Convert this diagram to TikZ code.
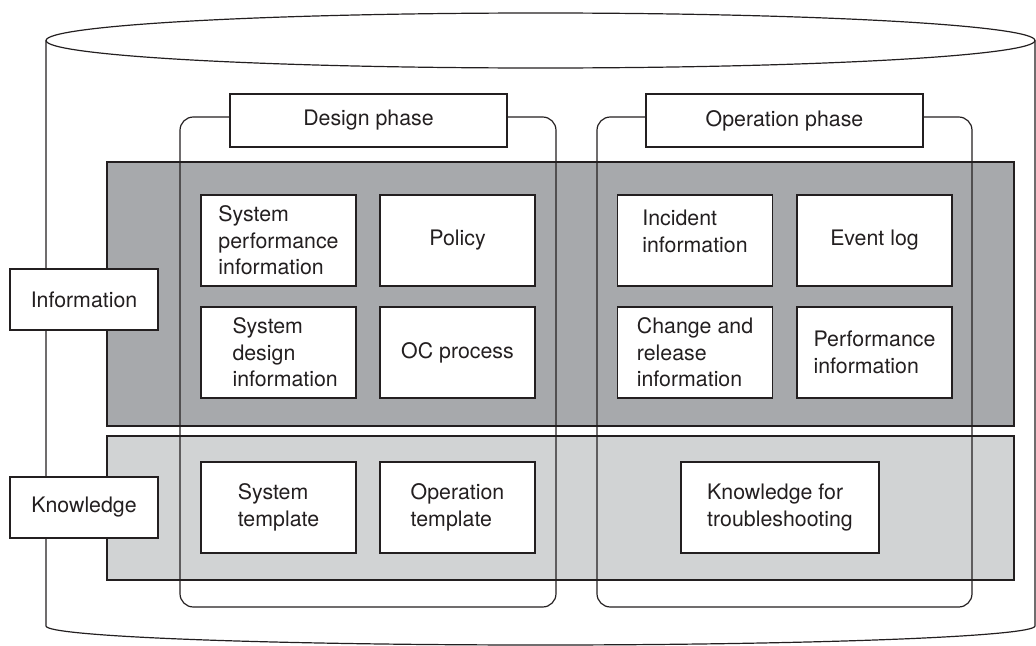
\documentclass[tikz,border=0pt]{standalone}
\usepackage{fontspec}
\setmainfont{TeX Gyre Heros}
\definecolor{darkband}{HTML}{A7A9AC}
\definecolor{lightband}{HTML}{D1D3D4}
\definecolor{ink}{HTML}{231F20}
\tikzset{
  box/.style={draw=ink, fill=white, line width=0.9pt, inner sep=0pt, align=left,
    font=\fontsize{16}{20}\selectfont, text=ink},
  itembox/.style={box, minimum width=116.25pt, minimum height=68.25pt},
  phasebox/.style={box, minimum width=207.75pt, minimum height=39.75pt},
  sidebox/.style={box, minimum width=111pt, minimum height=45.75pt},
  phaseframe/.style={draw=ink, line width=0.9pt, rounded corners=10pt}
}
\begin{document}
\begin{tikzpicture}[x=0.75pt,y=-0.75pt]
  \useasboundingbox (0,0) rectangle (1036,646);
  % cylinder
  \draw[ink, line width=0.9pt] (540.5,40.5) ellipse [x radius=494.5, y radius=27.5];
  \draw[ink, line width=0.9pt] (46,40.5) -- (46,626)
    arc [start angle=180, end angle=0, x radius=494.5, y radius=19] -- (1035,40.5);
  % bands
  \draw[ink, line width=0.9pt, fill=darkband] (107,162) rectangle (1014,426);
  \draw[ink, line width=0.9pt, fill=lightband] (107,436) rectangle (1014,580);
  % phase frames
  \draw[phaseframe] (180,117) rectangle (556,607);
  \draw[phaseframe] (597,117) rectangle (972,607);
  % phase labels
  \node[phasebox, align=center] (design) at (368.5,120.5) {Design phase};
  \node[phasebox, align=center] (operation) at (784.5,120.5) {Operation phase};
  % side labels
  \node[sidebox, align=center] (information) at (84,299.5) {Information};
  \node[sidebox, align=center] (knowledge) at (84,507.5) {Knowledge};
  % information items
  \node[itembox] (sysperf) at (278.5,240.5) {System\\performance\\information};
  \node[itembox] (policy) at (457.5,240.5) {Policy};
  \node[itembox] (sysdesign) at (278.5,352.5) {\hspace*{10pt}System\\\hspace*{10pt}design\\\hspace*{10pt}information};
  \node[itembox] (ocprocess) at (457.5,352.5) {OC process};
  \node[itembox] (incident) at (695,240.5) {Incident\\information\\[-6pt]};
  \node[itembox] (eventlog) at (874.5,240.5) {Event log};
  \node[itembox] (change) at (695,352.5) {Change and\\release\\information};
  \node[itembox] (perfinfo) at (874.5,352.5) {Performance\\information};
  % knowledge items
  \node[itembox] (systemplate) at (278.5,507.5) {System\\template};
  \node[itembox] (optemplate) at (457.5,507.5) {Operation\\template};
  \node[itembox, minimum width=148.5pt] (trouble) at (780,507.5) {Knowledge for\\troubleshooting};
\end{tikzpicture}
\end{document}
